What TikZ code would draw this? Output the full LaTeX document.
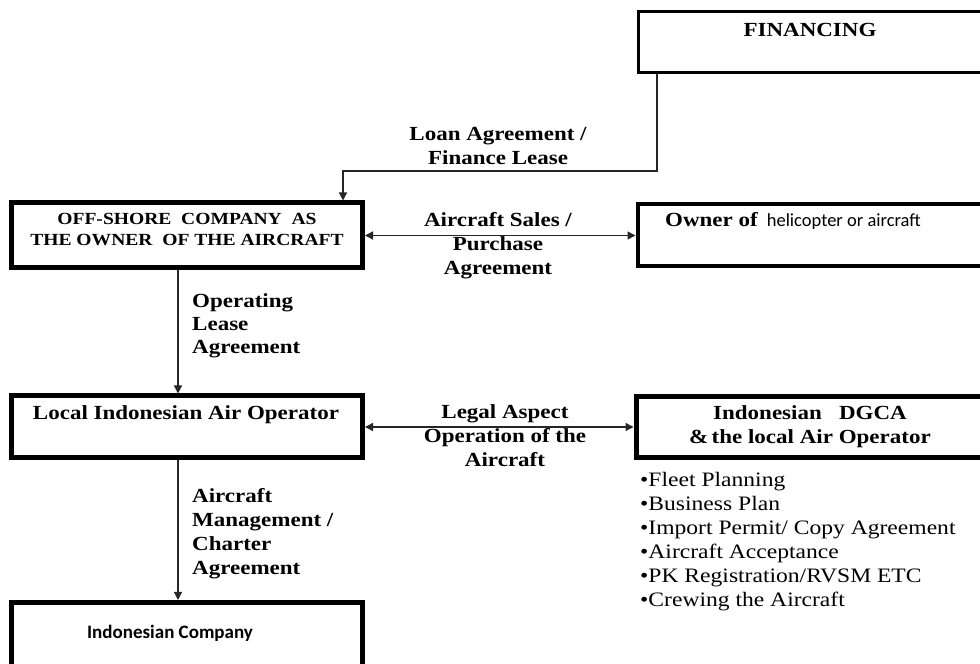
\documentclass[tikz,border=0pt]{standalone}
\usepackage{fontspec}
\setmainfont{Liberation Serif}[FakeStretch=1.15]
\newfontfamily\carlito{Carlito}
\usetikzlibrary{arrows.meta}

\tikzset{
  box/.style={draw,rectangle,inner sep=0pt,line width=5bp},
  txt/.style={inner sep=0pt,align=center,font=\fontsize{20bp}{24bp}\selectfont\bfseries},
  link/.style={line width=1.3bp,draw=black!85},
}

\begin{document}
\begin{tikzpicture}[>={Triangle[length=8bp,width=8bp]}]
    %%
    \useasboundingbox (0bp,0bp) rectangle (980bp,664bp);
    \clip (0bp,0bp) rectangle (980bp,664bp);
    % boxes
    \node (fin) at (812.25bp,622bp) [box,line width=3bp,minimum width=347.5bp,minimum height=61bp] {};
    \node (off) at (187bp,428.5bp) [box,minimum width=351bp,minimum height=65bp] {};
    \node (owner) at (811.75bp,428.5bp) [box,line width=4bp,minimum width=348.5bp,minimum height=62bp] {};
    \node (loc) at (187bp,237bp) [box,minimum width=351bp,minimum height=62bp] {};
    \node (dgca) at (811bp,237bp) [box,minimum width=350bp,minimum height=60.5bp] {};
    \node (comp) at (187bp,12.75bp) [box,minimum width=351bp,minimum height=97.5bp] {};
    % box texts
    \node (finlbl) at (810bp,634bp) [txt] {FINANCING};
    \node (offlbl) at (187bp,434bp) [txt,font=\fontsize{17bp}{21bp}\selectfont\bfseries] {OFF-SHORE\ \ COMPANY\ \ AS\\THE OWNER\ \ OF THE AIRCRAFT};
    \node (ownerlbl) at (665bp,443bp) [txt,anchor=west] {Owner of\hspace{9bp}{\carlito\mdseries\fontsize{18.5bp}{22bp}\selectfont helicopter or aircraft}};
    \node (loclbl) at (186bp,249bp) [txt] {Local Indonesian Air Operator};
    \node (dgcalbl) at (810bp,237bp) [txt] {Indonesian\ \ \ DGCA\\\&\,the local Air Operator};
    \node (complbl) at (170bp,31bp) [txt,font=\carlito\fontsize{19bp}{22bp}\selectfont\bfseries] {Indonesian Company};
    % connector texts
    \node (loan) at (498bp,518bp) [txt] {Loan Agreement /\\Finance Lease};
    \node (sales) at (498bp,418bp) [txt] {Aircraft Sales /\\Purchase\\Agreement};
    \node (oplease) at (192bp,338bp) [txt,anchor=west,align=left,font=\fontsize{20bp}{23bp}\selectfont\bfseries] {Operating\\Lease\\Agreement};
    \node (legal) at (505bp,228bp) [txt] {Legal Aspect\\Operation of the\\Aircraft};
    \node (mgmt) at (192bp,130bp) [txt,anchor=west,align=left] {Aircraft\\Management /\\Charter\\Agreement};
    \node (tasks) at (640bp,122bp) [txt,anchor=west,align=left,font=\fontsize{20.5bp}{24bp}\selectfont] {•Fleet Planning\\•Business Plan\\•Import Permit/ Copy Agreement\\•Aircraft Acceptance\\•PK Registration/RVSM ETC\\•Crewing the Aircraft};
    % connectors
    \coordinate (loanbend) at (343bp,493bp);
    \draw [link,->] ([xshift=20bp]fin.south west) |- (loanbend) -- (loanbend |- off.north);
    \draw [link,<->] (off) -- (owner);
    \draw [link,->] ([xshift=-9bp]off.south) -- ([xshift=-9bp]loc.north);
    \draw [link,<->] (loc) -- (dgca);
    \draw [link,->] ([xshift=-9bp]loc.south) -- ([xshift=-9bp]comp.north);
    %
\end{tikzpicture}
\end{document}
